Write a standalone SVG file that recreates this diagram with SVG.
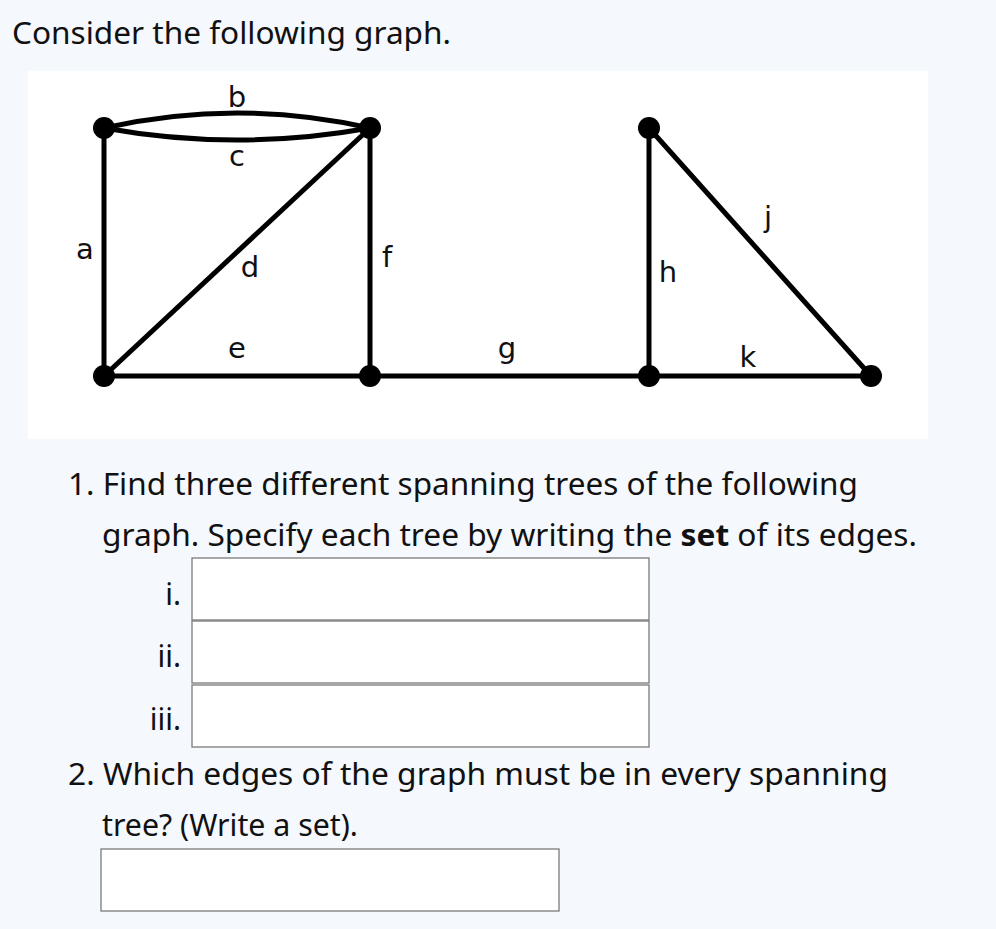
<svg xmlns="http://www.w3.org/2000/svg" width="996" height="929" viewBox="0 0 996 929">
<style>
.t{font-family:"Noto Sans","Open Sans","DejaVu Sans",sans-serif;font-size:30px;fill:#111}
.l{font-family:"DejaVu Sans","Noto Sans",sans-serif;font-size:29px;fill:#111}
.e{stroke:#000;stroke-width:5;fill:none}
.n{fill:#000}
.box{fill:#fff;stroke:#7a7a7a;stroke-width:1.3}
</style>
<rect width="996" height="929" fill="#f5f8fc"/>
<text class="t" x="12" y="44" textLength="439" lengthAdjust="spacingAndGlyphs">Consider the following graph.</text>
<rect x="28" y="71" width="900" height="368" fill="#fff"/>
<g id="connectors">
<line class="e" x1="104" y1="128" x2="104" y2="376"/>
<path class="e" d="M104 128 Q237 98 370 128" stroke-width="4"/>
<path class="e" d="M104 128 Q237 152 370 128" stroke-width="4"/>
<line class="e" x1="104" y1="376" x2="370" y2="128"/>
<line class="e" x1="104" y1="376" x2="370" y2="376"/>
<line class="e" x1="370" y1="128" x2="370" y2="376"/>
<line class="e" x1="370" y1="376" x2="649" y2="376"/>
<line class="e" x1="649" y1="128" x2="649" y2="376"/>
<line class="e" x1="649" y1="128" x2="871" y2="376"/>
<line class="e" x1="649" y1="376" x2="871" y2="376"/>
</g>
<g id="n1"><circle class="n" cx="104" cy="128" r="11"/></g>
<g id="n2"><circle class="n" cx="370" cy="128" r="11"/></g>
<g id="n3"><circle class="n" cx="104" cy="376" r="11"/></g>
<g id="n4"><circle class="n" cx="370" cy="376" r="11"/></g>
<g id="n5"><circle class="n" cx="649" cy="128" r="11"/></g>
<g id="n6"><circle class="n" cx="649" cy="376" r="11"/></g>
<g id="n7"><circle class="n" cx="871" cy="376" r="11"/></g>
<g id="labels">
<text class="l" x="237" y="107" text-anchor="middle">b</text>
<text class="l" x="237" y="166" text-anchor="middle">c</text>
<text class="l" x="85" y="259" text-anchor="middle">a</text>
<text class="l" x="250" y="277" text-anchor="middle">d</text>
<text class="l" x="237" y="358" text-anchor="middle">e</text>
<text class="l" x="387" y="267" text-anchor="middle">f</text>
<text class="l" x="507" y="358" text-anchor="middle">g</text>
<text class="l" x="668" y="282" text-anchor="middle">h</text>
<text class="l" x="768" y="227" text-anchor="middle">j</text>
<text class="l" x="748" y="367" text-anchor="middle">k</text>
</g>
<text class="t" x="68" y="495" textLength="790" lengthAdjust="spacingAndGlyphs">1. Find three different spanning trees of the following</text>
<text class="t" x="102" y="546" textLength="815" lengthAdjust="spacingAndGlyphs">graph. Specify each tree by writing the <tspan font-weight="bold">set</tspan> of its edges.</text>
<rect class="box" x="192" y="558" width="457" height="62"/>
<rect class="box" x="192" y="621" width="457" height="62"/>
<rect class="box" x="192" y="685" width="457" height="62"/>
<text class="t" x="181" y="605" text-anchor="end">i.</text>
<text class="t" x="181" y="667" text-anchor="end">ii.</text>
<text class="t" x="181" y="730" text-anchor="end">iii.</text>
<text class="t" x="68" y="785" textLength="820" lengthAdjust="spacingAndGlyphs">2. Which edges of the graph must be in every spanning</text>
<text class="t" x="102" y="836" textLength="256" lengthAdjust="spacingAndGlyphs">tree? (Write a set).</text>
<rect class="box" x="101" y="849" width="458" height="62"/>
</svg>
